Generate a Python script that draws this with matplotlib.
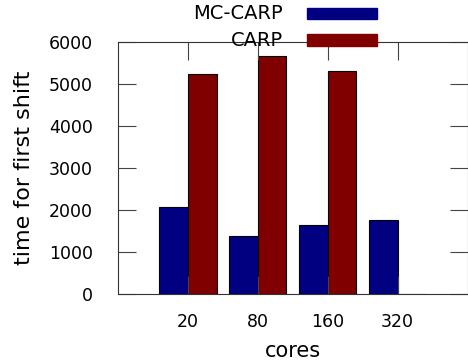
import matplotlib
matplotlib.use("Agg")
import matplotlib.pyplot as plt
import numpy as np

cores = ["20", "80", "160", "320"]
series_names = ["MC-CARP", "CARP"]
mc_carp = [2080, 1370, 1650, 1750]
carp = [5230, 5660, 5310, 0]
colors = ["#000080", "#800000"]

plt.rcParams["font.family"] = "DejaVu Sans"

fig = plt.figure(figsize=(4.68, 3.61), dpi=100)
ax = fig.add_axes([0.252, 0.186, 0.747, 0.698])

x = np.arange(len(cores))
w = 0.41
ax.bar(x - w / 2, mc_carp, w, color=colors[0], edgecolor="black", linewidth=0.8)
ax.bar(x + w / 2, carp, w, color=colors[1], edgecolor="black", linewidth=0.8)

ax.set_xlim(-1, 4)
ax.set_ylim(0, 6000)
ax.set_xticks(x)
ax.set_xticklabels(cores)
ax.set_yticks(range(0, 6001, 1000))
ax.tick_params(direction="in", length=13, width=0.8, top=True, right=True,
               labelsize=12.5, color="#444444")
ax.tick_params(axis="y", pad=18)
ax.tick_params(axis="x", pad=14)
for s in ax.spines.values():
    s.set_linewidth(0.8)
    s.set_color("#333333")

ax.set_xlabel("cores", fontsize=15, labelpad=7)
ax.set_ylabel("time for first shift", fontsize=16, labelpad=11)

# gnuplot-style legend: label right-aligned, swatch to the right
for i, (name, c) in enumerate(zip(series_names, colors)):
    yb = 0.962 - i * 0.073
    fig.text(0.605, yb, name, ha="right", va="center", fontsize=14)
    fig.patches.append(plt.Rectangle((0.656, yb - 0.016), 0.15, 0.032,
                                     transform=fig.transFigure, color=c,
                                     zorder=5))

fig.savefig("out.png", dpi=100)
